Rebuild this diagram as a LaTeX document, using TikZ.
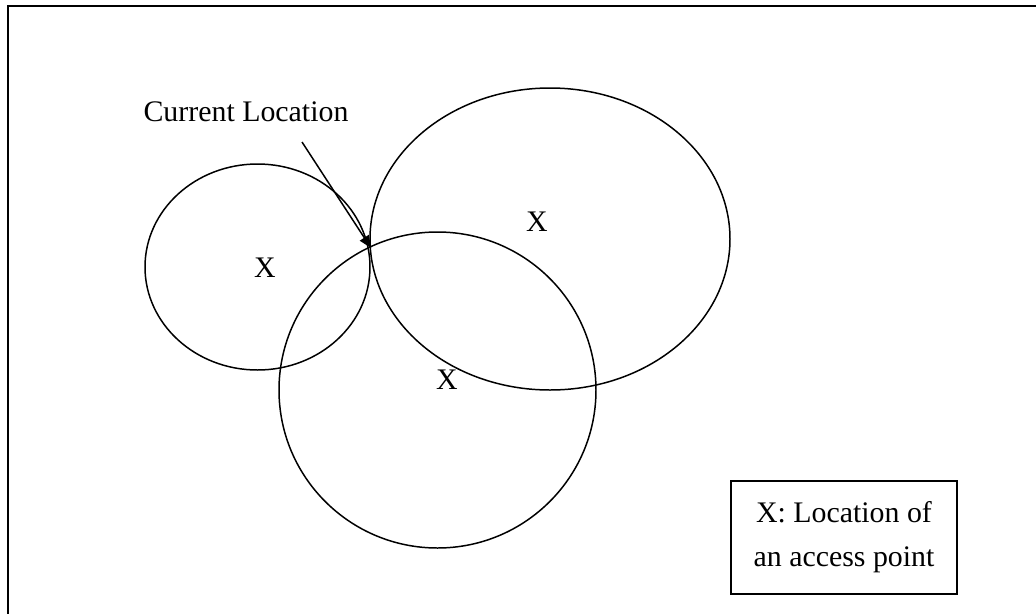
\documentclass[tikz,border=0pt]{standalone}
\usepackage{fontspec}
\setmainfont{Liberation Serif}
\usetikzlibrary{arrows.meta,positioning}

\begin{document}
\begin{tikzpicture}[
  x=0.02cm, y=-0.02cm,
  aprange/.style={line width=0.85pt, black},
  lbl/.style={font=\fontsize{17}{25}\selectfont, inner sep=0pt},
  arr/.style={-{Triangle[length=7pt,width=6pt]}, line width=0.85pt}
]
  \useasboundingbox (0,0) rectangle (1036,613);
  \clip (0,0) rectangle (1036,613);

  % outer frame (cut off at the right and bottom)
  \draw[line width=1.1pt] (8,1000) |- (1100,6);

  % access point ranges
  \draw[aprange] (257.5,267) ellipse [x radius=112.5, y radius=103];
  \draw[aprange] (550,239) ellipse [x radius=180, y radius=151];
  \draw[aprange] (437.5,390) ellipse [x radius=158.5, y radius=158];

  \node[lbl] (ap1) at (265,268) {X};
  \node[lbl] (ap2) at (537,222) {X};
  \node[lbl] (ap3) at (447,380) {X};

  \node[lbl, anchor=base] (cur-lbl) at (246,121) {Current Location};
  \coordinate (cur-tail) at (302,142);
  \coordinate (cur) at (371,248);
  \draw[arr] (cur-tail) -- (cur);

  % legend
  \node[draw, line width=0.85pt, minimum width=226*0.02cm, minimum height=113*0.02cm,
    lbl, align=center] (legend) at (844,537.5) {X: Location of\\an access point};
\end{tikzpicture}
\end{document}
